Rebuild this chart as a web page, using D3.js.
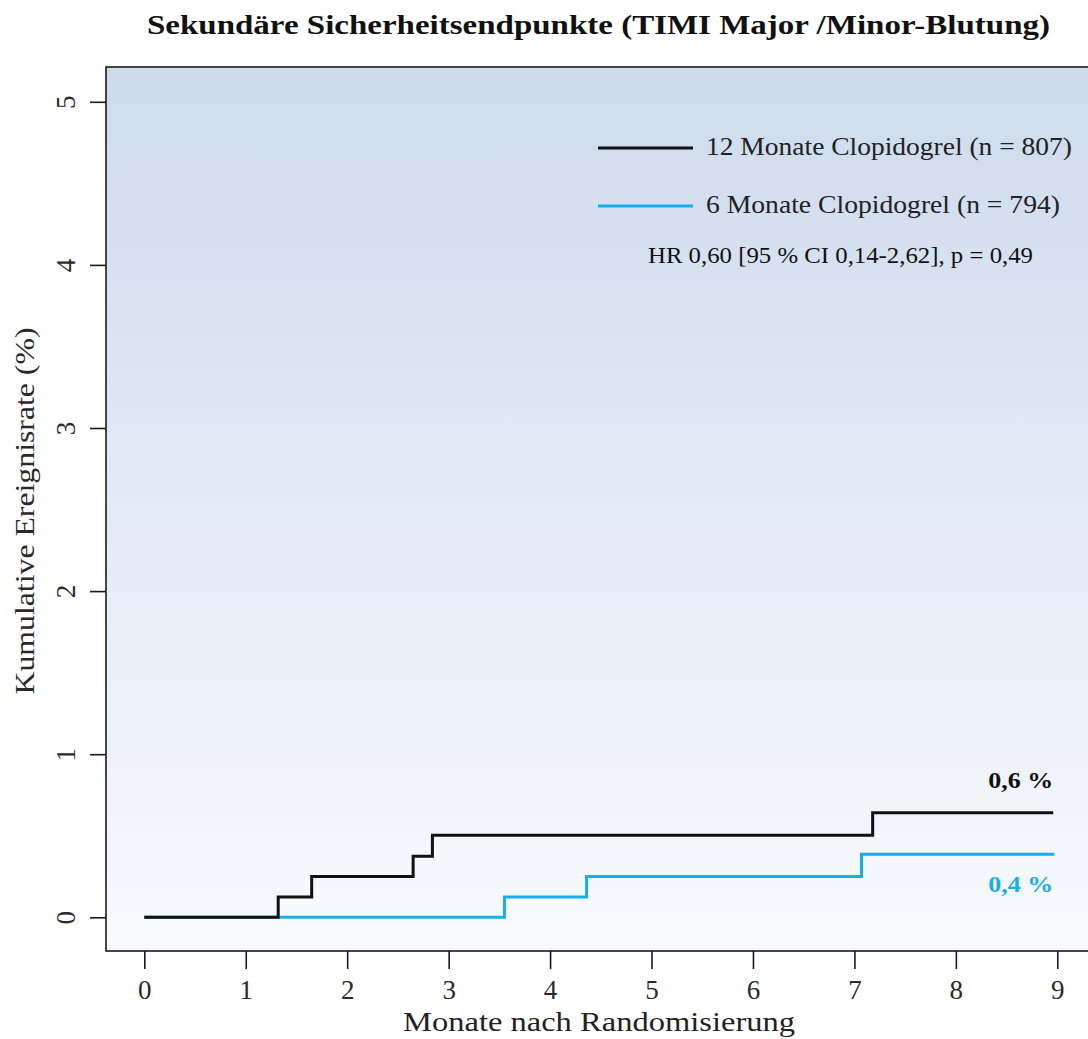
<!DOCTYPE html>
<html>
<head>
<meta charset="utf-8">
<script src="https://cdn.jsdelivr.net/npm/d3@7"></script>
<style>
  html, body { margin: 0; padding: 0; background: #ffffff; }
  svg { display: block; }
  text { font-family: "Liberation Serif", "Times New Roman", serif; }
</style>
</head>
<body>
<svg id="chart" width="1088" height="1039"></svg>
<script>
// ---- data ----
const chartTitle = "Sekundäre Sicherheitsendpunkte (TIMI Major /Minor-Blutung)";
const xAxisTitle = "Monate nach Randomisierung";
const yAxisTitle = "Kumulative Ereignisrate (%)";
const xTicks = [0, 1, 2, 3, 4, 5, 6, 7, 8, 9];
const yTicks = [0, 1, 2, 3, 4, 5];
const seriesNames = ["12 Monate Clopidogrel (n = 807)", "6 Monate Clopidogrel (n = 794)"];
const statText = "HR 0,60 [95 % CI 0,14-2,62], p = 0,49";
const months12 = [0, 1.32, 1.65, 2.65, 2.84, 7.18, 8.96];
const rate12   = [0, 0.124, 0.25, 0.374, 0.503, 0.641, 0.641];
const months6  = [0, 3.55, 4.36, 7.07, 8.97];
const rate6    = [0, 0.124, 0.25, 0.386, 0.386];
const endLabels = ["0,6 %", "0,4 %"];

// ---- layout ----
const svg = d3.select("#chart");
const frame = { left: 106, top: 67, right: 1092, bottom: 951 };
const x = d3.scaleLinear().domain([0, 9]).range([144.3, 1057.3]);
const y = d3.scaleLinear().domain([0, 5]).range([917.3, 101.8]);
const black = "#111111", blue = "#18aeea";

function fitText(sel, w) {
  sel.attr("textLength", w).attr("lengthAdjust", "spacingAndGlyphs");
  return sel;
}

// background gradient
const defs = svg.append("defs");
const grad = defs.append("linearGradient").attr("id", "bg")
  .attr("x1", 0).attr("y1", 0).attr("x2", 0).attr("y2", 1);
grad.append("stop").attr("offset", "0%").attr("stop-color", "#cddbec");
grad.append("stop").attr("offset", "100%").attr("stop-color", "#f8fafd");

svg.append("rect")
  .attr("x", frame.left).attr("y", frame.top)
  .attr("width", frame.right - frame.left).attr("height", frame.bottom - frame.top)
  .attr("fill", "url(#bg)").attr("stroke", "#1a1a1a").attr("stroke-width", 1.6);

// title
fitText(svg.append("text")
  .attr("x", 598.5).attr("y", 34).attr("text-anchor", "middle")
  .attr("font-size", 27).attr("font-weight", "bold").attr("fill", "#111")
  .text(chartTitle), 903);

// x axis
const xAxis = svg.append("g").attr("transform", `translate(0,${frame.bottom})`)
  .call(d3.axisBottom(x).tickValues(xTicks).tickSize(18).tickFormat(d3.format("d")));
xAxis.select(".domain").remove();
xAxis.selectAll(".tick line").attr("stroke", "#1a1a1a").attr("stroke-width", 1.6);
xAxis.selectAll(".tick text").attr("y", 48).attr("dy", null)
  .attr("font-size", 27).attr("fill", "#2a2a2a")
  .style("font-family", "'Liberation Serif', serif");

// y axis
const yAxis = svg.append("g").attr("transform", `translate(${frame.left},0)`)
  .call(d3.axisLeft(y).tickValues(yTicks).tickSize(16).tickFormat(d3.format("d")));
yAxis.select(".domain").remove();
yAxis.selectAll(".tick line").attr("stroke", "#1a1a1a").attr("stroke-width", 1.6);
yAxis.selectAll(".tick text")
  .attr("x", null).attr("dy", null)
  .attr("text-anchor", "middle")
  .attr("transform", "translate(-31,0) rotate(-90)")
  .attr("y", 0)
  .attr("font-size", 27).attr("fill", "#2a2a2a")
  .style("font-family", "'Liberation Serif', serif");

// axis titles
fitText(svg.append("text")
  .attr("x", 599).attr("y", 1031).attr("text-anchor", "middle")
  .attr("font-size", 28).attr("fill", "#222")
  .text(xAxisTitle), 392);
fitText(svg.append("text")
  .attr("transform", `translate(34,${(frame.top + frame.bottom) / 2 + 2}) rotate(-90)`)
  .attr("text-anchor", "middle")
  .attr("font-size", 28).attr("fill", "#2a2a2a")
  .text(yAxisTitle), 367);

// step lines
const line = d3.line().curve(d3.curveStepAfter).x(d => x(d[0])).y(d => y(d[1]));
svg.append("path").datum(months6.map((m, i) => [m, rate6[i]]))
  .attr("d", line).attr("fill", "none").attr("stroke", blue).attr("stroke-width", 3);
svg.append("path").datum(months12.map((m, i) => [m, rate12[i]]))
  .attr("d", line).attr("fill", "none").attr("stroke", black).attr("stroke-width", 3);

// end labels
fitText(svg.append("text").attr("x", x(8.96)).attr("y", y(rate12[rate12.length - 1]) - 25)
  .attr("text-anchor", "end").attr("font-size", 24).attr("font-weight", "bold")
  .attr("fill", black).text(endLabels[0]), 65);
fitText(svg.append("text").attr("x", x(8.96)).attr("y", y(rate6[rate6.length - 1]) + 38)
  .attr("text-anchor", "end").attr("font-size", 24).attr("font-weight", "bold")
  .attr("fill", blue).text(endLabels[1]), 65);

// legend
const legendRows = [
  { color: black, y: 148, ty: 155, w: 366 },
  { color: blue, y: 206, ty: 213, w: 354 }
];
legendRows.forEach((r, i) => {
  svg.append("line").attr("x1", 598).attr("x2", 693).attr("y1", r.y).attr("y2", r.y)
    .attr("stroke", r.color).attr("stroke-width", 3);
  fitText(svg.append("text").attr("x", 706).attr("y", r.ty)
    .attr("font-size", 26).attr("fill", "#222").text(seriesNames[i]), r.w);
});
fitText(svg.append("text").attr("x", 648).attr("y", 263)
  .attr("font-size", 24).attr("fill", "#111").text(statText), 385);
</script>
</body>
</html>
